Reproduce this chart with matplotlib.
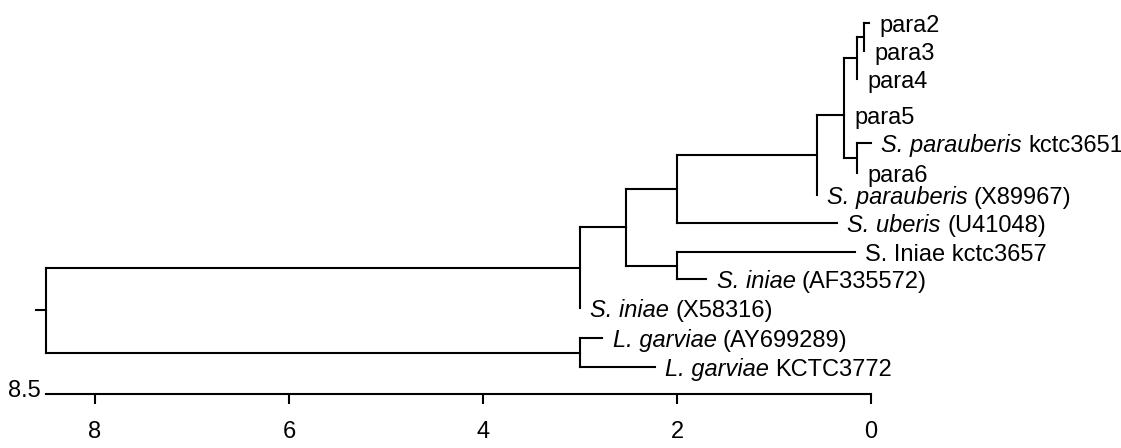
import matplotlib
matplotlib.use("Agg")
import matplotlib.pyplot as plt

plt.rcParams["font.family"] = ["Liberation Sans", "DejaVu Sans"]

# leaves, listed top to bottom
leaf_italic = ["", "", "", "", "S. parauberis", "", "S. parauberis", "S. uberis",
               "", "S. iniae", "S. iniae", "L. garviae", "L. garviae"]
leaf_plain = ["para2", "para3", "para4", "para5", "kctc3651", "para6", "(X89967)",
              "(U41048)", "S. Iniae kctc3657", "(AF335572)", "(X58316)",
              "(AY699289)", "KCTC3772"]
leaf_rows = [0, 0.98, 1.95, 3.2, 4.18, 5.23, 6.0, 6.98, 7.99, 8.93, 9.94, 10.99, 12.0]
leaf_dist = [0.02, 0.07, 0.14, 0.28, 0.0, 0.14, 0.56, 0.35, 0.165, 1.70, 3.0, 2.77, 2.23]

# internal nodes: distance from the 0 end and children (ints are leaf indices)
node_dist = {"root": 8.5, "A": 3.0, "B": 2.53, "C": 2.0, "D": 2.0, "E": 0.56,
             "F": 0.28, "G": 0.14, "H": 0.07, "I": 0.14, "L": 3.0}
node_children = {"root": ["A", "L"], "A": ["B", 10], "B": ["C", "D"], "C": ["E", 7],
                 "D": [8, 9], "E": ["F", 6], "F": ["G", 3, "I"], "G": ["H", 2],
                 "H": [0, 1], "I": [4, 5], "L": [11, 12]}

root_stub = 8.61
scale_ticks = [8, 6, 4, 2, 0]
scale_max = 8.5

LW = 1.5
FS = 17

fig = plt.figure(figsize=(11.21, 4.48), dpi=100)
ax = fig.add_axes([0, 0, 1, 1])


def draw(node, parent_d):
    if isinstance(node, int):
        y = leaf_rows[node]
        d = leaf_dist[node]
    else:
        ys = [draw(c, node_dist[node]) for c in node_children[node]]
        d = node_dist[node]
        ax.plot([d, d], [ys[0], ys[-1]], color="black", lw=LW)
        if len(ys) % 2:
            y = ys[len(ys) // 2]
        else:
            y = (ys[0] + ys[-1]) / 2
    ax.plot([parent_d, d], [y, y], color="black", lw=LW)
    return y


draw("root", root_stub)

for it, plain, row, d in zip(leaf_italic, leaf_plain, leaf_rows, leaf_dist):
    if it:
        t = ax.annotate(it, xy=(d, row), xytext=(7.5, -2), textcoords="offset points",
                        ha="left", va="center", fontsize=FS, style="italic")
        # plain part continues right after the italic part
        ax.annotate(plain, xy=(1, 0.5), xycoords=t, xytext=(4.5, 0),
                    textcoords="offset points", ha="left", va="center", fontsize=FS)
    else:
        ax.annotate(plain, xy=(d, row), xytext=(7.5, -2), textcoords="offset points",
                    ha="left", va="center", fontsize=FS)

# scale bar along the bottom
axis_y = 12.94
ax.set_xlim(8.979, -2.577)
ax.set_ylim(14.82, -0.802)
for s in ["left", "top", "right"]:
    ax.spines[s].set_visible(False)
ax.spines["bottom"].set_position(("data", axis_y))
ax.spines["bottom"].set_bounds(0, scale_max)
ax.spines["bottom"].set_linewidth(LW)
ax.set_xticks(scale_ticks)
ax.set_xticklabels([str(t) for t in scale_ticks])
ax.tick_params(axis="x", direction="out", length=7, width=LW, pad=12.5, labelsize=FS)
ax.set_yticks([])
ax.annotate(str(scale_max), xy=(scale_max, axis_y), xytext=(-4, 2),
            textcoords="offset points", ha="right", va="center", fontsize=FS)

fig.savefig("out.png", dpi=100)
